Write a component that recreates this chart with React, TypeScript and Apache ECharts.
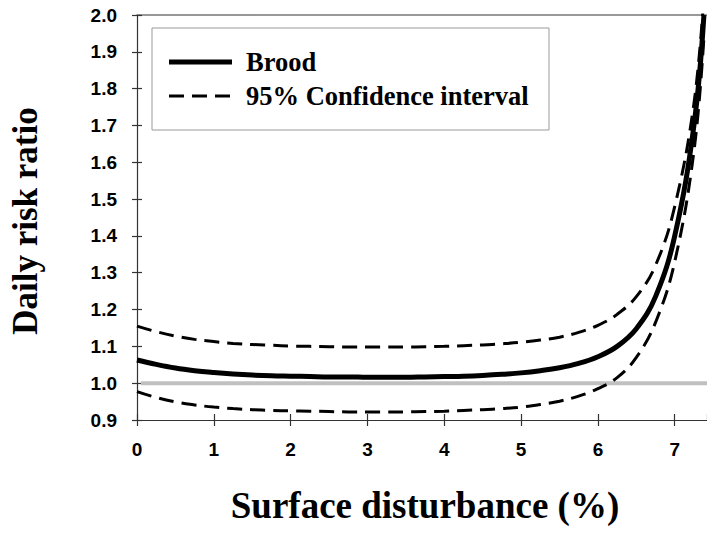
import React, { useEffect, useRef } from "react";
import * as echarts from "echarts";

const xValues = [0, 0.25, 0.5, 0.75, 1, 1.25, 1.5, 1.75, 2, 2.25, 2.5, 2.75, 3, 3.25, 3.5, 3.75, 4, 4.25, 4.5, 4.75, 5, 5.25, 5.5, 5.75, 6, 6.25, 6.5, 6.75, 7, 7.25, 7.38];
const broodValues = [1.063, 1.051, 1.041, 1.034, 1.029, 1.025, 1.022, 1.02, 1.019, 1.018, 1.017, 1.017, 1.016, 1.016, 1.016, 1.017, 1.018, 1.019, 1.021, 1.024, 1.028, 1.034, 1.042, 1.054, 1.072, 1.1, 1.148, 1.235, 1.4, 1.7, 2.0];
const upperValues = [1.155, 1.14, 1.128, 1.119, 1.113, 1.108, 1.105, 1.103, 1.101, 1.1, 1.099, 1.098, 1.098, 1.098, 1.098, 1.099, 1.1, 1.102, 1.104, 1.107, 1.111, 1.117, 1.125, 1.138, 1.157, 1.187, 1.235, 1.32, 1.48, 1.76, 2.05];
const lowerValues = [0.977, 0.961, 0.949, 0.941, 0.935, 0.931, 0.928, 0.926, 0.925, 0.924, 0.923, 0.922, 0.922, 0.922, 0.922, 0.923, 0.924, 0.926, 0.928, 0.931, 0.935, 0.942, 0.951, 0.965, 0.985, 1.015, 1.07, 1.165, 1.33, 1.63, 1.94];
const referenceX = [0.05, 7.42];
const referenceValue = 1.0;
const legendNames = ["Brood", "95% Confidence interval"];
const xTitle = "Surface disturbance (%)";
const yTitle = "Daily risk ratio";

const pairs = (ys: number[]) => xValues.map((x, i) => [x, ys[i]]);

export default function App() {
  const ref = useRef<HTMLDivElement>(null);
  useEffect(() => {
    if (!ref.current) return;
    const chart = echarts.init(ref.current, null, { renderer: "svg" });
    const tickFont = { fontFamily: "Liberation Sans", fontWeight: "bold" as const, fontSize: 19, color: "#000" };
    const axisLineStyle = { color: "#333", width: 1.2 };
    const dash = [15, 8];
    const XMAX = 7.42;
    chart.setOption({
      animation: false,
      backgroundColor: "#fff",
      grid: { left: 137, top: 15, bottom: 113, right: 0, show: false },
      xAxis: [
        {
          type: "value", min: 0, max: XMAX, interval: 1, position: "bottom",
          axisLine: { show: true, lineStyle: axisLineStyle, onZero: false },
          axisTick: { show: true, inside: false, length: 6, lineStyle: axisLineStyle },
          axisLabel: { ...tickFont, margin: 20, showMaxLabel: false, formatter: (v: number) => (v <= 7 ? String(v) : "") },
          splitLine: { show: false },
        },
        {
          type: "value", min: 0, max: XMAX, interval: 1, position: "bottom",
          axisLine: { show: false },
          axisTick: { show: true, inside: true, length: 6, lineStyle: axisLineStyle },
          axisLabel: { show: false },
          splitLine: { show: false },
        },
        {
          type: "value", min: 0, max: XMAX, interval: 1, position: "top",
          axisLine: { show: true, lineStyle: { color: "#777", width: 1.5 }, onZero: false },
          axisTick: { show: false },
          axisLabel: { show: false },
          splitLine: { show: false },
        },
      ],
      yAxis: [
        {
          type: "value", min: 0.9, max: 2.0, interval: 0.1, position: "left",
          axisLine: { show: true, lineStyle: axisLineStyle, onZero: false },
          axisTick: { show: true, inside: false, length: 5, lineStyle: axisLineStyle },
          axisLabel: { ...tickFont, margin: 20, formatter: (v: number) => v.toFixed(1) },
          splitLine: { show: false },
        },
        {
          type: "value", min: 0.9, max: 2.0, interval: 0.1, position: "left",
          axisLine: { show: false },
          axisTick: { show: true, inside: true, length: 5, lineStyle: axisLineStyle },
          axisLabel: { show: false },
          splitLine: { show: false },
        },
      ],
      series: [
        {
          type: "line", name: "reference", data: referenceX.map((x) => [x, referenceValue]),
          symbol: "none", lineStyle: { color: "#c0c0c0", width: 4 }, z: 1, silent: true,
        },
        {
          type: "line", name: legendNames[1], data: pairs(upperValues), smooth: 0.4,
          symbol: "none", lineStyle: { color: "#000", width: 3, type: dash }, z: 3,
        },
        {
          type: "line", name: legendNames[1] + " lower", data: pairs(lowerValues), smooth: 0.4,
          symbol: "none", lineStyle: { color: "#000", width: 3, type: dash }, z: 3,
        },
        {
          type: "line", name: legendNames[0], data: pairs(broodValues), smooth: 0.4,
          symbol: "none", lineStyle: { color: "#000", width: 5 }, z: 4,
        },
      ],
      graphic: [
        { type: "rect", shape: { x: 152, y: 28, width: 397, height: 102 }, style: { fill: "#fff", stroke: "#999", lineWidth: 1 }, z: 10 },
        { type: "line", shape: { x1: 169, y1: 62, x2: 232, y2: 62 }, style: { stroke: "#000", lineWidth: 5 }, z: 11 },
        { type: "text", x: 246, y: 62, style: { text: legendNames[0], font: "bold 26.5px 'Liberation Serif'", fill: "#000", verticalAlign: "middle", align: "left" }, z: 11 },
        { type: "line", shape: { x1: 169, y1: 96, x2: 232, y2: 96 }, style: { stroke: "#000", lineWidth: 3, lineDash: dash }, z: 11 },
        { type: "text", x: 246, y: 96, style: { text: legendNames[1], font: "bold 26.5px 'Liberation Serif'", fill: "#000", verticalAlign: "middle", align: "left" }, z: 11 },
        { type: "text", x: 25, y: 221, rotation: Math.PI / 2, style: { text: yTitle, font: "bold 35px 'Liberation Serif'", fill: "#000", verticalAlign: "middle", align: "center" }, z: 11 },
        { type: "text", x: 425, y: 505, style: { text: xTitle, font: "bold 37px 'Liberation Serif'", fill: "#000", verticalAlign: "middle", align: "center" }, z: 11 },
      ],
    });
    return () => chart.dispose();
  }, []);
  return <div ref={ref} style={{ position: "absolute", left: 0, top: 0, width: 707, height: 533 }} />;
}
